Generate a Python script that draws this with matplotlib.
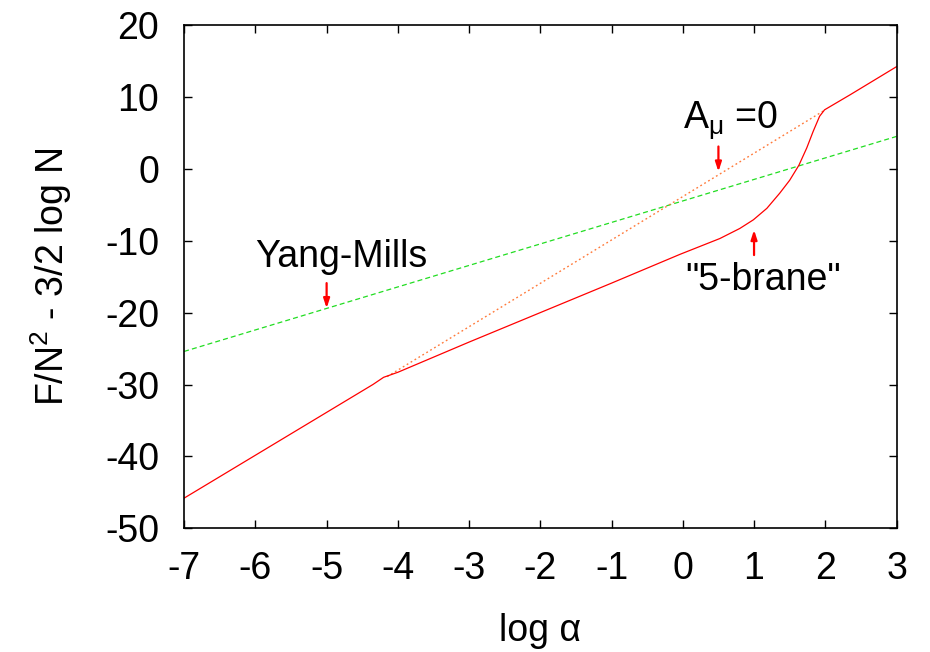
import matplotlib
matplotlib.use('Agg')
import matplotlib.pyplot as plt

plt.rcParams['font.family'] = ['Liberation Sans', 'DejaVu Sans']
plt.rcParams['mathtext.fontset'] = 'custom'
plt.rcParams['mathtext.rm'] = 'Liberation Sans'
plt.rcParams['mathtext.it'] = 'Liberation Sans'
plt.rcParams['mathtext.sf'] = 'Liberation Sans'

# full free energy (red solid)
brane_x = [-7.0, -4.35, -4.2, -4.0, -3.0, -2.0, -1.0, -0.04, 0.24, 0.52, 0.80, 0.99,
           1.18, 1.36, 1.50, 1.63, 1.74, 1.83, 1.92, 1.99, 2.11, 2.35, 3.0]
brane_y = [-45.8, -30.0, -29.0, -28.3, -24.1, -20.0, -15.9, -11.9, -10.8, -9.7, -8.3, -7.1,
           -5.5, -3.4, -1.6, 0.5, 2.9, 5.2, 7.3, 8.2, 8.9, 10.3, 14.2]

# A_mu = 0 branch (dotted)
amu_x = [-4.15, 2.0]
amu_y = [-28.9, 8.2]

# Yang-Mills (green dashed)
ym_x = [-7.0, 3.0]
ym_y = [-25.4, 4.5]

xticks = list(range(-7, 4))
yticks = list(range(-50, 21, 10))

fig = plt.figure(figsize=(9.3, 6.52), dpi=100)
ax = fig.add_axes([0.198, 0.1897, 0.766, 0.772])

ax.plot(ym_x, ym_y, color='#22dd22', lw=0.9, dashes=(4, 2.5))
ax.plot(amu_x, amu_y, color='#ff7a3a', lw=1.0, dashes=(1.3, 2.0))
ax.plot(brane_x, brane_y, color='#ff0000', lw=0.9)

arr = dict(arrowstyle='-|>,head_length=0.55,head_width=0.18', color='#ff0000', lw=1.6,
           shrinkA=0, shrinkB=0)
ax.annotate('', xy=(-5.0, -19.4), xytext=(-5.0, -15.9), arrowprops=arr)
ax.annotate('', xy=(0.5, -0.4), xytext=(0.5, 3.1), arrowprops=arr)
ax.annotate('', xy=(1.0, -8.5), xytext=(1.0, -12.0), arrowprops=arr)

ax.text(-6.0, -13.6, 'Yang-Mills', fontsize=27, ha='left', va='baseline')
ax.text(0.0, 5.6, r'A$_{\mathrm{μ}}$ =0', fontsize=27, ha='left', va='baseline')
ax.text(0.03, -16.9, '"5-brane"', fontsize=27, ha='left', va='baseline')

ax.set_xlim(-7, 3)
ax.set_ylim(-50, 20)
ax.set_xticks(xticks)
ax.set_yticks(yticks)
ax.set_xticklabels([str(t) for t in xticks])
ax.set_yticklabels([str(t) for t in yticks])
ax.tick_params(direction='in', length=6, width=1, top=True, right=True, labelsize=27)
ax.tick_params(axis='x', pad=16)
ax.tick_params(axis='y', pad=18)
for s in ax.spines.values():
    s.set_linewidth(1.2)

ax.set_xlabel('log α', fontsize=27, labelpad=19)
ax.set_ylabel(r'F/N$^2$ - 3/2 log N', fontsize=27, labelpad=22)

fig.savefig('out.png', dpi=100)
